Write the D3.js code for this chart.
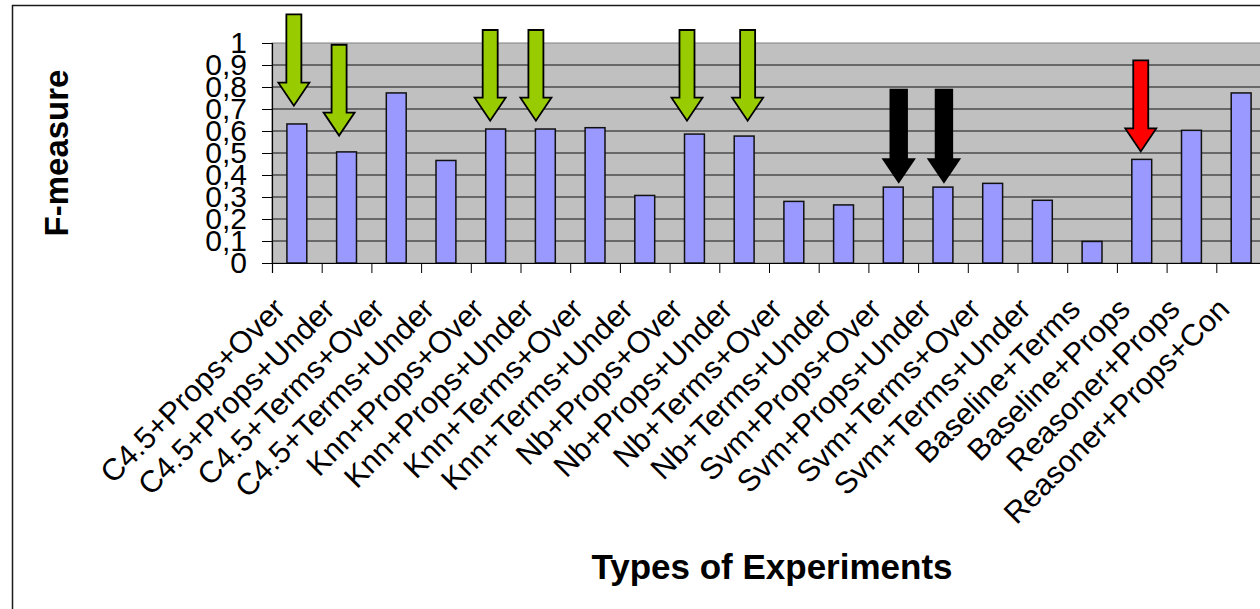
<!DOCTYPE html>
<html>
<head>
<meta charset="utf-8">
<script src="https://cdn.jsdelivr.net/npm/d3@7"></script>
<style>
  html, body { margin: 0; padding: 0; background: #fff; overflow: hidden; }
  svg { display: block; font-family: "Liberation Sans", Arial, sans-serif; }
</style>
</head>
<body>
<svg id="chart" width="1260" height="609"></svg>
<script>
// Experiment configurations along the x axis
const categories = [
  "C4.5+Props+Over", "C4.5+Props+Under", "C4.5+Terms+Over", "C4.5+Terms+Under",
  "Knn+Props+Over", "Knn+Props+Under", "Knn+Terms+Over", "Knn+Terms+Under",
  "Nb+Props+Over", "Nb+Props+Under", "Nb+Terms+Over", "Nb+Terms+Under",
  "Svm+Props+Over", "Svm+Props+Under", "Svm+Terms+Over", "Svm+Terms+Under",
  "Baseline+Terms", "Baseline+Props", "Reasoner+Props", "Reasoner+Props+Con"
];

// F-measure per experiment
const fMeasure = [
  0.632, 0.505, 0.773, 0.466,
  0.609, 0.609, 0.615, 0.307,
  0.586, 0.577, 0.280, 0.264,
  0.345, 0.345, 0.362, 0.285,
  0.098, 0.471, 0.603, 0.773
];

// Y axis ticks and their comma-decimal labels
const yTicks = [0, 0.1, 0.2, 0.3, 0.4, 0.5, 0.6, 0.7, 0.8, 0.9, 1];
const yTickLabels = ["0", "0,1", "0,2", "0,3", "0,4", "0,5", "0,6", "0,7", "0,8", "0,9", "1"];

// Highlight arrows: position in category units, top of shaft and tip in F-measure units
const arrowPos   = [0.44, 1.35, 4.39, 5.31, 8.35, 9.57, 12.61, 13.52, 17.48];
const arrowTop   = [1.13, 0.992, 1.059, 1.059, 1.059, 1.059, 0.788, 0.788, 0.921];
const arrowTip   = [0.715, 0.579, 0.647, 0.647, 0.647, 0.647, 0.368, 0.368, 0.507];
const arrowColor = ["#99CC00", "#99CC00", "#99CC00", "#99CC00", "#99CC00", "#99CC00", "#000000", "#000000", "#FF0000"];

const svg = d3.select("#chart");

const plot = { left: 272, top: 43, bottom: 263, step: 49.7 };
const plotRight = plot.left + plot.step * categories.length;

const x = d3.scaleBand()
  .domain(categories)
  .range([plot.left, plotRight])
  .paddingInner(0.6)
  .paddingOuter(0.3);

const xIdx = d3.scaleLinear()
  .domain([0, categories.length])
  .range([plot.left, plotRight]);

const y = d3.scaleLinear()
  .domain([0, 1])
  .range([plot.bottom, plot.top]);

// Outer chart frame
svg.append("rect")
  .attr("x", 12.5).attr("y", 5.5)
  .attr("width", 1400).attr("height", 800)
  .attr("fill", "none")
  .attr("stroke", "#1a1a1a")
  .attr("stroke-width", 1.5);

// Plot background
svg.append("rect")
  .attr("x", plot.left).attr("y", y(1))
  .attr("width", plotRight - plot.left)
  .attr("height", y(0) - y(1))
  .attr("fill", "#C0C0C0")
  .attr("stroke", "#808080")
  .attr("stroke-width", 1);

// Horizontal gridlines
svg.append("g")
  .selectAll("line")
  .data(yTicks.filter(v => v > 0 && v < 1))
  .join("line")
  .attr("x1", plot.left).attr("x2", plotRight)
  .attr("y1", d => y(d)).attr("y2", d => y(d))
  .attr("stroke", "#111")
  .attr("stroke-width", 1);

// Bars
svg.append("g")
  .selectAll("rect")
  .data(categories)
  .join("rect")
  .attr("x", d => x(d))
  .attr("y", (d, i) => y(fMeasure[i]))
  .attr("width", x.bandwidth())
  .attr("height", (d, i) => y(0) - y(fMeasure[i]))
  .attr("fill", "#9999FF")
  .attr("stroke", "#111")
  .attr("stroke-width", 1.5);

// Y axis
const yAxis = svg.append("g")
  .attr("transform", `translate(${plot.left},0)`)
  .call(d3.axisLeft(y)
    .tickValues(yTicks)
    .tickFormat((d, i) => yTickLabels[i])
    .tickSize(10)
    .tickPadding(15));
yAxis.select(".domain").attr("stroke", "#000").attr("stroke-width", 1.2);
yAxis.selectAll(".tick line").attr("stroke", "#000");
yAxis.selectAll("text")
  .attr("font-size", 30)
  .attr("font-family", "'Liberation Sans', Arial, sans-serif")
  .attr("fill", "#000");

// X axis: tick marks between categories
const xTicks = svg.append("g")
  .attr("transform", `translate(0,${plot.bottom})`)
  .call(d3.axisBottom(xIdx)
    .tickValues(d3.range(categories.length + 1))
    .tickFormat("")
    .tickSize(10));
xTicks.select(".domain").attr("stroke", "#000").attr("stroke-width", 1.2);
xTicks.selectAll(".tick line").attr("stroke", "#000");

// X axis: rotated category labels
const xLabels = svg.append("g")
  .attr("transform", `translate(0,${plot.bottom})`)
  .call(d3.axisBottom(x).tickSize(0));
xLabels.select(".domain").remove();
xLabels.selectAll("text")
  .attr("x", 0).attr("y", 0).attr("dy", 0)
  .attr("text-anchor", "end")
  .attr("transform", "translate(-10,48) rotate(-45)")
  .attr("font-size", 30.5)
  .attr("font-family", "'Liberation Sans', Arial, sans-serif")
  .attr("fill", "#000");

// Block arrows pointing down at highlighted bars
const shaftHalf = 7.5, headHalf = 15.5, headLen = 23;
svg.append("g")
  .selectAll("path")
  .data(arrowPos)
  .join("path")
  .attr("d", (p, i) => {
    const cx = xIdx(p);
    const top = y(arrowTop[i]);
    const tip = y(arrowTip[i]);
    const sh = arrowColor[i] === "#000000" ? shaftHalf + 0.8 : shaftHalf;
    const base = tip - headLen;
    return `M${cx - sh},${top} L${cx + sh},${top} L${cx + sh},${base} L${cx + headHalf},${base} ` +
           `L${cx},${tip} L${cx - headHalf},${base} L${cx - sh},${base} Z`;
  })
  .attr("fill", (p, i) => arrowColor[i])
  .attr("stroke", "#000")
  .attr("stroke-width", 1.8)
  .attr("stroke-linejoin", "miter");

// Axis titles
svg.append("text")
  .attr("transform", "translate(68,153) rotate(-90)")
  .attr("text-anchor", "middle")
  .attr("font-size", 33)
  .attr("font-weight", "bold")
  .attr("fill", "#000")
  .text("F-measure");

svg.append("text")
  .attr("x", 772)
  .attr("y", 579)
  .attr("text-anchor", "middle")
  .attr("font-size", 35)
  .attr("font-weight", "bold")
  .attr("fill", "#000")
  .text("Types of Experiments");
</script>
</body>
</html>
